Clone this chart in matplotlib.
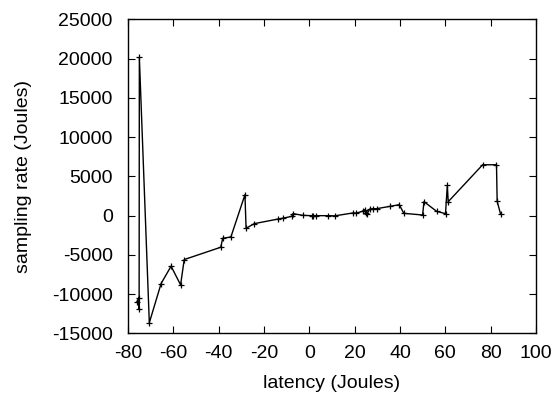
import matplotlib
matplotlib.use("Agg")
import matplotlib.pyplot as plt

plt.rcParams["font.family"] = ["Liberation Sans", "DejaVu Sans"]
plt.rcParams["axes.unicode_minus"] = False

latency = [-76.2, -75.1, -75.1, -75.0, -70.6, -65.4, -61.0, -56.8, -55.2,
           -39.1, -38.2, -34.6, -28.4, -27.9, -24.3, -13.7, -11.6, -7.8,
           -7.1, -2.9, 1.0, 1.7, 2.9, 8.1, 11.3, 19.1, 20.8, 23.5, 24.5,
           24.9, 25.5, 26.7, 28.2, 29.7, 35.6, 39.7, 41.7, 50.0, 50.6,
           56.2, 60.1, 60.9, 61.3, 76.5, 82.6, 82.9, 84.4]
sampling_rate = [-11020, -10460, -11950, 20170, -13640, -8640, -6440, -8810,
                 -5590, -4025, -2880, -2710, 2670, -1610, -1017, -424, -320,
                 -85, 254, 42, 0, 0, 0, 0, -20, 339, 339, 551, 763, 339, 254,
                 847, 890, 890, 1186, 1398, 297, 85, 1780, 551, 254, 3856,
                 1780, 6484, 6484, 1822, 212]

fig = plt.figure(figsize=(5.6, 3.96), dpi=100)
ax = fig.add_axes([0.2286, 0.158, 0.7284, 0.793])

ax.plot(latency, sampling_rate, color="black", linewidth=1.0,
        marker="+", markersize=5, markeredgewidth=0.9)

ax.set_xlim(-80, 100)
ax.set_ylim(-15000, 25000)
ax.set_xticks(range(-80, 101, 20))
ax.set_yticks(range(-15000, 25001, 5000))
ax.tick_params(direction="in", top=True, right=True, labelsize=14,
               length=5, width=0.8)
ax.tick_params(axis="x", pad=8)
ax.tick_params(axis="y", pad=11)
for s in ax.spines.values():
    s.set_linewidth(1.0)

ax.set_xlabel("latency (Joules)", fontsize=14, labelpad=10)
ax.set_ylabel("sampling rate (Joules)", fontsize=14, labelpad=14)

fig.savefig("out.png", dpi=100)
